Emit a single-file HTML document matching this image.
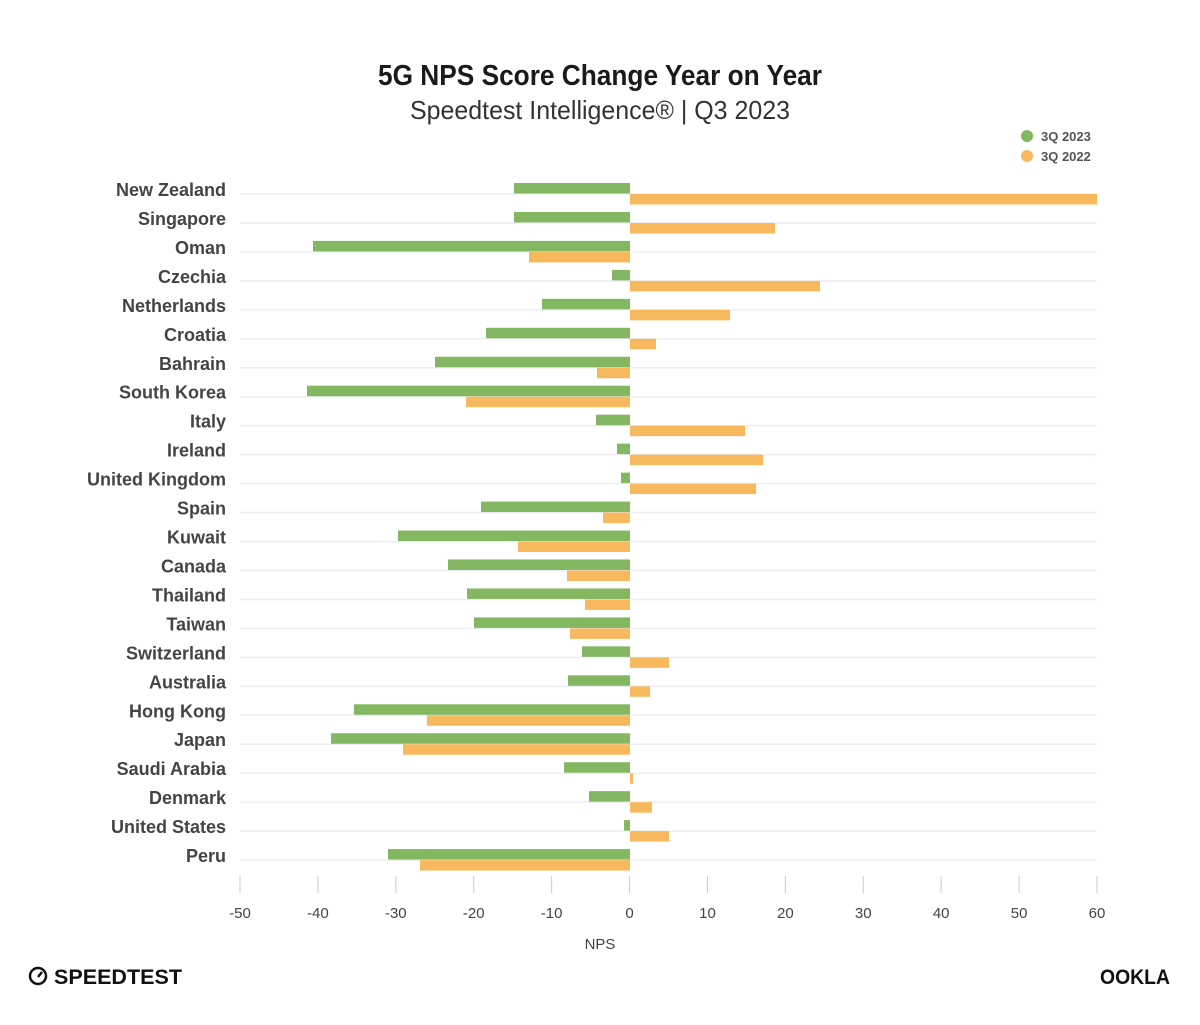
<!DOCTYPE html>
<html><head><meta charset="utf-8"><style>
body{margin:0;background:#fff;width:1200px;height:1020px;overflow:hidden;font-family:"Liberation Sans",sans-serif}
</style></head><body>
<svg id="s" width="1200" height="1020" xmlns="http://www.w3.org/2000/svg" font-family="Liberation Sans, sans-serif">
<text x="600" y="85" text-anchor="middle" font-size="29" font-weight="bold" fill="#1a1a1a" textLength="444" lengthAdjust="spacingAndGlyphs">5G NPS Score Change Year on Year</text>
<text x="600" y="119" text-anchor="middle" font-size="26" fill="#333" textLength="380" lengthAdjust="spacingAndGlyphs">Speedtest Intelligence® | Q3 2023</text>
<circle cx="1027" cy="136" r="6" fill="#84b761"/><text x="1041" y="141" font-size="13" font-weight="bold" fill="#555">3Q 2023</text>
<circle cx="1027" cy="156" r="6" fill="#f8b95e"/><text x="1041" y="161" font-size="13" font-weight="bold" fill="#555">3Q 2022</text>
<g id="g"></g>
<text x="600" y="949" text-anchor="middle" font-size="15" fill="#444">NPS</text>
<circle cx="38" cy="976" r="8" fill="none" stroke="#111" stroke-width="2.5"/><line x1="38" y1="977" x2="42" y2="972" stroke="#111" stroke-width="2.5"/>
<text x="54" y="984" font-size="21" font-weight="bold" fill="#111" textLength="128" lengthAdjust="spacingAndGlyphs">SPEEDTEST</text>
<text x="1100" y="984" font-size="21" font-weight="bold" fill="#111" textLength="70" lengthAdjust="spacingAndGlyphs">OOKLA</text>
</svg>
<script>
var d=[["New Zealand",514,1097],["Singapore",514,775],["Oman",313,529],["Czechia",612,820],["Netherlands",542,730],["Croatia",486,656],["Bahrain",435,597],["South Korea",307,466],["Italy",596,745],["Ireland",617,763],["United Kingdom",621,756],["Spain",481,603],["Kuwait",398,518],["Canada",448,567],["Thailand",467,585],["Taiwan",474,570],["Switzerland",582,669],["Australia",568,650],["Hong Kong",354,427],["Japan",331,403],["Saudi Arabia",564,633],["Denmark",589,652],["United States",624,669],["Peru",388,420]];
var z=630,h="";
d.forEach(function(r,i){var c=194+28.96*i;
h+='<line x1="240" x2="1097" y1="'+c+'" y2="'+c+'" stroke="#eceef3" stroke-width="1.5"/>';
h+='<text x="226" y="'+(c+2)+'" text-anchor="end" font-size="18" fill="#444" font-weight="bold" style="font-stretch:condensed">'+r[0]+'</text>';
var g=r[1];h+='<rect x="'+Math.min(g,z)+'" y="'+(c-11)+'" width="'+Math.abs(g-z)+'" height="10.5" fill="#84b761"/>';
var o=r[2];h+='<rect x="'+Math.min(o,z)+'" y="'+c+'" width="'+Math.abs(o-z)+'" height="10.5" fill="#f8b95e"/>';});
for(var v=-50;v<=60;v+=10){var x=240+(v+50)*857/110;
h+='<line x1="'+x+'" x2="'+x+'" y1="876" y2="893" stroke="#c8cad6"/>';
h+='<text x="'+x+'" y="918" text-anchor="middle" font-size="15" fill="#444">'+v+'</text>';}
document.getElementById("g").innerHTML=h;
</script>
</body></html>
